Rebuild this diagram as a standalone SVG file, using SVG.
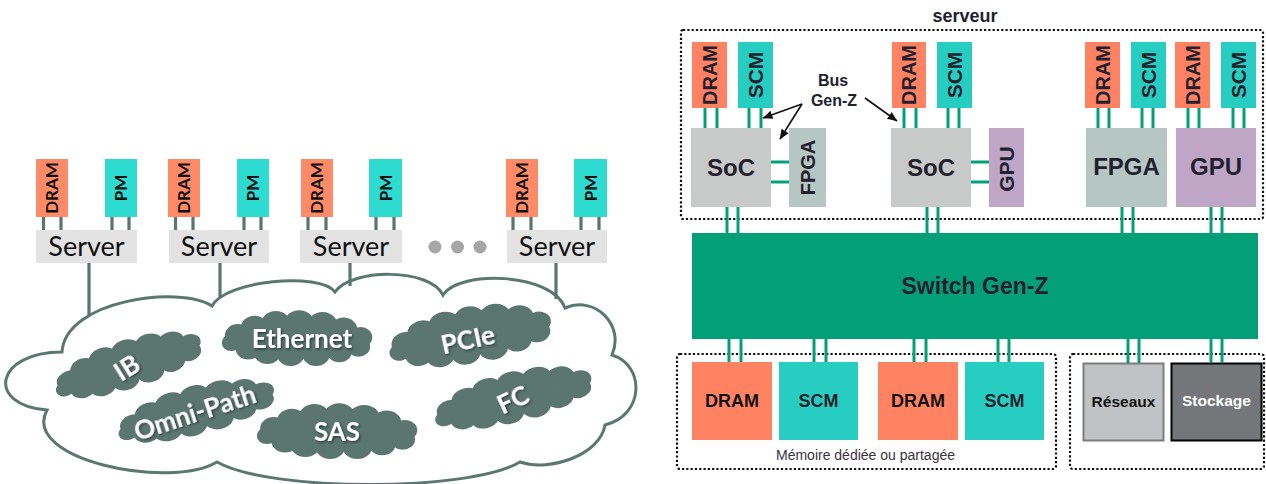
<svg xmlns="http://www.w3.org/2000/svg" width="1266" height="484" viewBox="0 0 1266 484">
<style>
.vl{font-family:Lato,"Open Sans",sans-serif;font-weight:bold;font-size:17px;fill:#111;text-anchor:middle}
.sv{font-family:Lato,"Open Sans",sans-serif;font-size:27px;fill:#111;text-anchor:middle}
.ct{font-family:Lato,"Open Sans",sans-serif;font-weight:bold;font-size:26px;fill:#fff;text-anchor:middle;filter:url(#ts)}
.rt{font-family:"Liberation Sans",Arial,sans-serif;font-weight:bold;fill:#231f2e;text-anchor:middle}
.dram{fill:#ff8363}
.scm{fill:#27cdc1}
.ldram{fill:#ff8a68}
.lpm{fill:#2edbd0}
.srv{fill:#e3e3e3}
.dot{fill:none;stroke:#111;stroke-width:2.2;stroke-dasharray:2.2 2.1}
.gl{stroke:#03a077;stroke-width:3}
.ll{stroke:#5a7570;stroke-width:3.2}
.ar{stroke:#111;stroke-width:1.6;fill:none;marker-end:url(#ah)}
</style>
<defs>
<filter id="ts" x="-20%" y="-30%" width="140%" height="160%">
<feDropShadow dx="1.2" dy="1.5" stdDeviation="0.8" flood-color="#1a2522" flood-opacity="0.75"/>
</filter>
<marker id="ah" viewBox="0 0 10 10" refX="9.5" refY="5" markerWidth="10" markerHeight="10" markerUnits="userSpaceOnUse" orient="auto">
<path d="M0,0.8 L10,5 L0,9.2 z" fill="#111"/>
</marker>
<g id="blob" fill="#5a766f">
<ellipse cx="0" cy="0" rx="60" ry="17"/>
<circle cx="-56" cy="-4" r="12"/><circle cx="-40" cy="-12" r="13"/><circle cx="-20" cy="-16" r="14"/>
<circle cx="2" cy="-17" r="14"/><circle cx="24" cy="-15" r="14"/><circle cx="44" cy="-10" r="13"/>
<circle cx="60" cy="-2" r="11"/><circle cx="58" cy="8" r="11"/><circle cx="40" cy="13" r="12"/>
<circle cx="18" cy="16" r="13"/><circle cx="-6" cy="16" r="13"/><circle cx="-28" cy="14" r="13"/>
<circle cx="-46" cy="10" r="12"/><circle cx="-62" cy="4" r="9"/>
</g>
</defs>

<!-- LEFT: network cloud -->
<g id="cloud">
<path d="M 47 410 C -15 405, -5 352, 62 352 C 65 300, 180 285, 212 306 C 225 280, 320 272, 335 292 C 352 268, 430 268, 443 295 C 458 270, 552 272, 565 308 C 595 295, 625 325, 612 355 C 645 365, 645 415, 605 425 C 600 455, 550 472, 520 462 C 470 492, 270 492, 217 462 C 170 490, 20 460, 47 410 Z" fill="#fff" stroke="#5b7770" stroke-width="3"/>
</g>
<g id="net-ib"><use href="#blob" transform="translate(128,365) rotate(-18) scale(1.08,0.82)"/><text class="ct" transform="translate(127,368) rotate(-32)" dy="0.36em">IB</text></g>
<g id="net-omnipath"><use href="#blob" transform="translate(196,411) rotate(-15) scale(1.14,0.82)"/><text class="ct" transform="translate(195,413) rotate(-18)" dy="0.36em">Omni-Path</text></g>
<g id="net-ethernet"><use href="#blob" transform="translate(297,339) scale(1.06,0.93)"/><text class="ct" x="302" y="339" dy="0.36em">Ethernet</text></g>
<g id="net-pcie"><use href="#blob" transform="translate(470,336) rotate(-10) scale(1.16,0.95)"/><text class="ct" transform="translate(468,340) rotate(-12)" dy="0.36em">PCIe</text></g>
<g id="net-fc"><use href="#blob" transform="translate(513,398) rotate(-14) scale(1.14,0.85)"/><text class="ct" transform="translate(513,400) rotate(-25)" dy="0.36em">FC</text></g>
<g id="net-sas"><use href="#blob" transform="translate(337,432) scale(1.13,0.93)"/><text class="ct" x="337" y="432" dy="0.36em">SAS</text></g>

<g id="server-1">
<rect class="ldram" x="36" y="159" width="32" height="58"/><rect class="lpm" x="105" y="159" width="32" height="58"/>
<rect class="srv" x="36" y="230" width="101" height="33"/>
<text class="vl" transform="translate(52,188) rotate(-90)" dy="0.36em">DRAM</text>
<text class="vl" transform="translate(121,188) rotate(-90)" dy="0.36em">PM</text>
<text class="sv" x="86.5" y="256">Server</text>
</g>
<g id="server-2">
<rect class="ldram" x="168" y="159" width="32" height="58"/><rect class="lpm" x="237" y="159" width="32" height="58"/>
<rect class="srv" x="169" y="230" width="100" height="33"/>
<text class="vl" transform="translate(184,188) rotate(-90)" dy="0.36em">DRAM</text>
<text class="vl" transform="translate(253,188) rotate(-90)" dy="0.36em">PM</text>
<text class="sv" x="219" y="256">Server</text>
</g>
<g id="server-3">
<rect class="ldram" x="301" y="159" width="32" height="58"/><rect class="lpm" x="369" y="159" width="33" height="58"/>
<rect class="srv" x="300" y="230" width="102" height="33"/>
<text class="vl" transform="translate(317,188) rotate(-90)" dy="0.36em">DRAM</text>
<text class="vl" transform="translate(385.5,188) rotate(-90)" dy="0.36em">PM</text>
<text class="sv" x="351" y="256">Server</text>
</g>
<g id="ellipsis" fill="#a6a6a6">
<circle cx="435" cy="247" r="6.5"/><circle cx="457.5" cy="247" r="6.5"/><circle cx="480" cy="247" r="6.5"/>
</g>
<g id="server-4">
<rect class="ldram" x="506" y="159" width="32" height="58"/><rect class="lpm" x="574" y="159" width="33" height="58"/>
<rect class="srv" x="507" y="230" width="100" height="33"/>
<text class="vl" transform="translate(522,188) rotate(-90)" dy="0.36em">DRAM</text>
<text class="vl" transform="translate(590.5,188) rotate(-90)" dy="0.36em">PM</text>
<text class="sv" x="557" y="256">Server</text>
</g>

<g id="left-connectors" class="ll">
<line x1="43.5" y1="217" x2="43.5" y2="230"/><line x1="61" y1="217" x2="61" y2="230"/><line x1="112" y1="217" x2="112" y2="230"/><line x1="129" y1="217" x2="129" y2="230"/>
<line x1="175.5" y1="217" x2="175.5" y2="230"/><line x1="193" y1="217" x2="193" y2="230"/><line x1="244" y1="217" x2="244" y2="230"/><line x1="261" y1="217" x2="261" y2="230"/>
<line x1="308" y1="217" x2="308" y2="230"/><line x1="326" y1="217" x2="326" y2="230"/><line x1="376" y1="217" x2="376" y2="230"/><line x1="394" y1="217" x2="394" y2="230"/>
<line x1="513" y1="217" x2="513" y2="230"/><line x1="531" y1="217" x2="531" y2="230"/><line x1="581" y1="217" x2="581" y2="230"/><line x1="599" y1="217" x2="599" y2="230"/>
<line x1="89" y1="263" x2="89" y2="316"/><line x1="220" y1="263" x2="220" y2="297"/><line x1="350" y1="263" x2="350" y2="286"/><line x1="556" y1="263" x2="556" y2="299"/>
</g>

<!-- RIGHT: Gen-Z -->
<g id="serveur-box">
<rect class="dot" x="681" y="30" width="582" height="189" rx="2"/>
<text class="rt" x="965" y="22" font-size="18">serveur</text>
</g>
<g id="memory-box">
<rect class="dot" x="677" y="354" width="379" height="115" rx="3"/>
<text x="865.5" y="460" font-family="'Liberation Sans',Arial,sans-serif" font-size="14" fill="#3a3340" text-anchor="middle">Mémoire dédiée ou partagée</text>
</g>
<g id="io-box"><rect class="dot" x="1070" y="354" width="194" height="115" rx="3"/></g>

<g id="soc1-dram"><rect class="dram" x="692" y="42" width="35" height="66"/><text class="rt" font-size="20" transform="translate(709.5,75) rotate(-90)" dy="0.36em">DRAM</text></g>
<g id="soc1-scm"><rect class="scm" x="738" y="42" width="35" height="66"/><text class="rt" font-size="21" transform="translate(755.5,75) rotate(-90)" dy="0.36em">SCM</text></g>
<g id="soc1"><rect x="691" y="128" width="80" height="79" fill="#c8caca"/><text class="rt" font-size="24" x="731" y="176">SoC</text></g>
<g id="fpga-small"><rect x="789" y="128" width="37" height="79" fill="#b5c6c3"/><text class="rt" font-size="20" transform="translate(807.5,167.5) rotate(-90)" dy="0.36em">FPGA</text></g>

<g id="soc2-dram"><rect class="dram" x="892" y="42" width="34" height="66"/><text class="rt" font-size="20" transform="translate(909,75) rotate(-90)" dy="0.36em">DRAM</text></g>
<g id="soc2-scm"><rect class="scm" x="937" y="42" width="35" height="66"/><text class="rt" font-size="21" transform="translate(954.5,75) rotate(-90)" dy="0.36em">SCM</text></g>
<g id="soc2"><rect x="891" y="128" width="80" height="79" fill="#c8caca"/><text class="rt" font-size="24" x="931" y="176">SoC</text></g>
<g id="gpu-small"><rect x="989" y="128" width="35" height="79" fill="#bfa6c6"/><text class="rt" font-size="21" transform="translate(1006.5,169) rotate(-90)" dy="0.36em">GPU</text></g>

<g id="fpga-dram"><rect class="dram" x="1085" y="42" width="35" height="66"/><text class="rt" font-size="20" transform="translate(1102.5,75) rotate(-90)" dy="0.36em">DRAM</text></g>
<g id="fpga-scm"><rect class="scm" x="1131" y="42" width="35" height="66"/><text class="rt" font-size="21" transform="translate(1148.5,75) rotate(-90)" dy="0.36em">SCM</text></g>
<g id="fpga"><rect x="1086" y="128" width="81" height="79" fill="#b5c6c3"/><text class="rt" font-size="24" x="1126.5" y="175">FPGA</text></g>

<g id="gpu-dram"><rect class="dram" x="1175" y="42" width="35" height="66"/><text class="rt" font-size="20" transform="translate(1192.5,75) rotate(-90)" dy="0.36em">DRAM</text></g>
<g id="gpu-scm"><rect class="scm" x="1221" y="42" width="35" height="66"/><text class="rt" font-size="21" transform="translate(1238.5,75) rotate(-90)" dy="0.36em">SCM</text></g>
<g id="gpu"><rect x="1176" y="128" width="80" height="79" fill="#bfa6c6"/><text class="rt" font-size="24" x="1216" y="175">GPU</text></g>

<g id="bus-label">
<text class="rt" font-size="16" x="833" y="86">Bus</text>
<text class="rt" font-size="16" x="834" y="106">Gen-Z</text>
</g>

<g id="switch"><rect x="692" y="233" width="566" height="106" fill="#03a077"/><text class="rt" font-size="23" x="975" y="294">Switch Gen-Z</text></g>

<g id="mem-dram1"><rect class="dram" x="692" y="362" width="80" height="78"/><text class="rt" font-size="18" x="732" y="407" style="fill:#111">DRAM</text></g>
<g id="mem-scm1"><rect class="scm" x="779" y="362" width="79" height="78"/><text class="rt" font-size="18" x="818.5" y="407">SCM</text></g>
<g id="mem-dram2"><rect class="dram" x="878" y="362" width="80" height="78"/><text class="rt" font-size="18" x="918" y="407" style="fill:#111">DRAM</text></g>
<g id="mem-scm2"><rect class="scm" x="965" y="362" width="79" height="78"/><text class="rt" font-size="18" x="1004.5" y="407">SCM</text></g>
<g id="reseaux"><rect x="1083.5" y="363.5" width="80" height="77" fill="#c0c2c3" stroke="#7c7c7c" stroke-width="2"/><text class="rt" font-size="15.5" x="1123.5" y="407" style="fill:#111">Réseaux</text></g>
<g id="stockage"><rect x="1171.5" y="363.5" width="90" height="77" fill="#75767a" stroke="#000" stroke-width="2"/><text class="rt" font-size="15.5" x="1216.5" y="406" style="fill:#fff">Stockage</text></g>

<g id="connectors">
<g class="gl">
<line x1="705" y1="108" x2="705" y2="128"/><line x1="717" y1="108" x2="717" y2="128"/><line x1="749" y1="108" x2="749" y2="128"/><line x1="761" y1="108" x2="761" y2="128"/>
<line x1="904" y1="108" x2="904" y2="128"/><line x1="916" y1="108" x2="916" y2="128"/><line x1="948" y1="108" x2="948" y2="128"/><line x1="959" y1="108" x2="959" y2="128"/>
<line x1="1098" y1="108" x2="1098" y2="128"/><line x1="1109" y1="108" x2="1109" y2="128"/><line x1="1142" y1="108" x2="1142" y2="128"/><line x1="1153" y1="108" x2="1153" y2="128"/>
<line x1="1188" y1="108" x2="1188" y2="128"/><line x1="1199" y1="108" x2="1199" y2="128"/><line x1="1233" y1="108" x2="1233" y2="128"/><line x1="1244" y1="108" x2="1244" y2="128"/>
<line x1="771" y1="162" x2="789" y2="162"/><line x1="771" y1="182" x2="789" y2="182"/>
<line x1="971" y1="162" x2="989" y2="162"/><line x1="971" y1="182" x2="989" y2="182"/>
<line x1="727" y1="207" x2="727" y2="233"/><line x1="738" y1="207" x2="738" y2="233"/>
<line x1="927" y1="207" x2="927" y2="233"/><line x1="938" y1="207" x2="938" y2="233"/>
<line x1="1122" y1="207" x2="1122" y2="233"/><line x1="1133" y1="207" x2="1133" y2="233"/>
<line x1="1211" y1="207" x2="1211" y2="233"/><line x1="1222" y1="207" x2="1222" y2="233"/>
<line x1="729" y1="339" x2="729" y2="362"/><line x1="741" y1="339" x2="741" y2="362"/>
<line x1="814" y1="339" x2="814" y2="362"/><line x1="826" y1="339" x2="826" y2="362"/>
<line x1="914" y1="339" x2="914" y2="362"/><line x1="926" y1="339" x2="926" y2="362"/>
<line x1="998" y1="339" x2="998" y2="362"/><line x1="1009" y1="339" x2="1009" y2="362"/>
<line x1="1128" y1="339" x2="1128" y2="363"/><line x1="1139" y1="339" x2="1139" y2="363"/>
<line x1="1211" y1="339" x2="1211" y2="363"/><line x1="1222" y1="339" x2="1222" y2="363"/>
</g>
<line class="ar" x1="802" y1="104" x2="763" y2="118"/>
<line class="ar" x1="802" y1="104" x2="780" y2="139"/>
<line class="ar" x1="865" y1="98" x2="897" y2="121"/>
</g>
</svg>
